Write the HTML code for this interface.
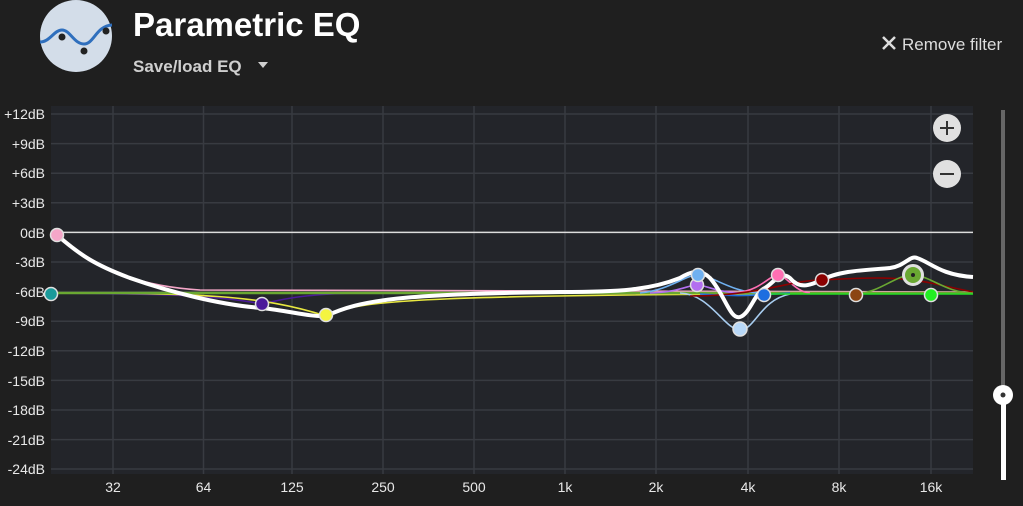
<!DOCTYPE html>
<html><head><style>
body{margin:0;width:1023px;height:506px;background:#1f1f1f;overflow:hidden;font-family:"Liberation Sans",sans-serif;}
</style></head><body>
<svg width="1023" height="506" xmlns="http://www.w3.org/2000/svg" style="position:absolute;left:0;top:0">
<circle cx="76" cy="36" r="36" fill="#d3dde9"/>
<path d="M40,42 C50,42 54,30 62,30 C70,30 74,44 84,44 C94,44 96,26 112,25" stroke="#2f6fbd" stroke-width="3" fill="none"/>
<circle cx="62" cy="37" r="3.5" fill="#222"/><circle cx="84" cy="51" r="3.5" fill="#222"/><circle cx="106" cy="31" r="3.5" fill="#222"/>
<text x="133" y="36" fill="#fff" font-size="33" font-weight="bold">Parametric EQ</text>
<text x="133" y="72" fill="#cfcfcf" font-size="17" font-weight="bold">Save/load EQ</text>
<path d="M258,62 L268,62 L263,68 Z" fill="#cfcfcf"/>
<path d="M883,37 L895,49 M895,37 L883,49" stroke="#ddd" stroke-width="2.5"/>
<text x="902" y="50" fill="#ddd" font-size="17">Remove filter</text>
<rect x="51" y="106" width="922" height="368" fill="#23252a"/>
<g stroke="#383b41" stroke-width="1.5">
<line x1="51" x2="973" y1="114" y2="114"/><line x1="51" x2="973" y1="143.6" y2="143.6"/><line x1="51" x2="973" y1="173.2" y2="173.2"/><line x1="51" x2="973" y1="202.8" y2="202.8"/>
<line x1="51" x2="973" y1="262" y2="262"/><line x1="51" x2="973" y1="291.6" y2="291.6"/><line x1="51" x2="973" y1="321.2" y2="321.2"/><line x1="51" x2="973" y1="350.8" y2="350.8"/><line x1="51" x2="973" y1="380.4" y2="380.4"/><line x1="51" x2="973" y1="410" y2="410"/><line x1="51" x2="973" y1="439.6" y2="439.6"/><line x1="51" x2="973" y1="469" y2="469"/>
<line x1="113" x2="113" y1="106" y2="474"/><line x1="203.5" x2="203.5" y1="106" y2="474"/><line x1="292" x2="292" y1="106" y2="474"/><line x1="383" x2="383" y1="106" y2="474"/><line x1="474" x2="474" y1="106" y2="474"/><line x1="565" x2="565" y1="106" y2="474"/><line x1="656" x2="656" y1="106" y2="474"/><line x1="748" x2="748" y1="106" y2="474"/><line x1="839" x2="839" y1="106" y2="474"/><line x1="931" x2="931" y1="106" y2="474"/>
</g>
<line x1="51" x2="973" y1="232.4" y2="232.4" stroke="#ddd" stroke-width="1.5"/>
<g fill="#e8e8e8" font-size="14" text-anchor="end">
<text x="45" y="119">+12dB</text><text x="45" y="149">+9dB</text><text x="45" y="178">+6dB</text><text x="45" y="208">+3dB</text><text x="45" y="238">0dB</text><text x="45" y="267">-3dB</text><text x="45" y="297">-6dB</text><text x="45" y="326">-9dB</text><text x="45" y="356">-12dB</text><text x="45" y="386">-15dB</text><text x="45" y="415">-18dB</text><text x="45" y="445">-21dB</text><text x="45" y="474">-24dB</text>
</g>
<g fill="#e8e8e8" font-size="14" text-anchor="middle">
<text x="113" y="492">32</text><text x="203.5" y="492">64</text><text x="292" y="492">125</text><text x="383" y="492">250</text><text x="474" y="492">500</text><text x="565" y="492">1k</text><text x="656" y="492">2k</text><text x="748" y="492">4k</text><text x="839" y="492">8k</text><text x="931" y="492">16k</text>
</g>
<g fill="none" stroke-width="1.6">
<path d="M57,235 C90,260 120,285 200,290 C280,292 400,292 973,292" stroke="#f4a6c8"/>
<path d="M51,293 C150,294 210,294 262,304 C280,300 300,294 360,293 L973,293" stroke="#4b1a9a"/>
<path d="M51,293 C200,293 260,295 326,316 C360,300 400,294 973,293" stroke="#e8e840"/>
<path d="M51,293 L973,293" stroke="#6aa832" stroke-width="2.5"/>
<path d="M640,293 C670,290 685,275 698,275 C712,275 730,292 760,293" stroke="#6fb0f0"/>
<path d="M650,293 C680,292 688,285 697,285 C706,285 715,292 740,293" stroke="#b36ff0"/>
<path d="M680,293 C710,294 725,330 740,330 C755,330 760,300 790,294" stroke="#a8cdf0"/>
<path d="M700,294 C740,297 760,295 790,293" stroke="#1e6ee0"/>
<path d="M740,292 C760,290 770,275 778,275 C786,275 795,292 810,293" stroke="#ff6fb3"/>
<path d="M690,296 C760,296 790,280 822,280 C860,278 900,275 940,285 L973,292" stroke="#8b0000"/>
<path d="M855,294 C880,293 895,275 912,275 C930,275 945,293 973,293" stroke="#6aa832"/>
<path d="M760,294 L973,294" stroke="#22dd22"/>
</g>
<path d="M57,235 C80,255 95,265 130,278 C170,292 220,305 262,308 C290,311 310,317 326,316 C360,300 400,294 560,292 C620,292 650,290 680,278 C690,272 700,268 710,278 C725,295 730,320 740,317 C750,314 755,292 765,288 C775,282 780,270 790,278 C800,290 810,285 822,280 C840,270 870,270 890,268 C905,266 910,255 917,258 C930,262 940,275 973,277" fill="none" stroke="#fff" stroke-width="4"/>
<g stroke="#e0e0e0" stroke-width="1.5">
<circle cx="57" cy="235" r="6.5" fill="#f4a6c8"/>
<circle cx="51" cy="294" r="6.5" fill="#1a9a9a"/>
<circle cx="262" cy="304" r="6.5" fill="#4b1a9a"/>
<circle cx="326" cy="315" r="6.5" fill="#f4f440"/>
<circle cx="697" cy="285" r="6.5" fill="#b36ff0"/>
<circle cx="698" cy="275" r="6.5" fill="#6fb0f0"/>
<circle cx="740" cy="329" r="7" fill="#b8d8f8"/>
<circle cx="764" cy="295" r="6.5" fill="#1e6ee0"/>
<circle cx="778" cy="275" r="6.5" fill="#ff6fb3"/>
<circle cx="822" cy="280" r="6.5" fill="#8b0000"/>
<circle cx="856" cy="295" r="6.5" fill="#8b4513"/>
<circle cx="913" cy="275" r="9.5" fill="#6aa832" stroke-width="3"/>
<circle cx="931" cy="295" r="6.5" fill="#22ee22"/>
</g>
<circle cx="913" cy="275" r="2" fill="#222"/>
<circle cx="947" cy="128" r="14" fill="#e0e0e0"/><path d="M940,128 H954 M947,121 V135" stroke="#333" stroke-width="2"/>
<circle cx="947" cy="174" r="14" fill="#e0e0e0"/><path d="M940,174 H954" stroke="#333" stroke-width="2"/>
<rect x="1001" y="110" width="4" height="286" fill="#666"/>
<rect x="1001" y="396" width="5" height="84" fill="#fff"/>
<circle cx="1003" cy="395" r="10" fill="#fff"/><circle cx="1003" cy="395" r="2.5" fill="#333"/>
</svg>
</body></html>
